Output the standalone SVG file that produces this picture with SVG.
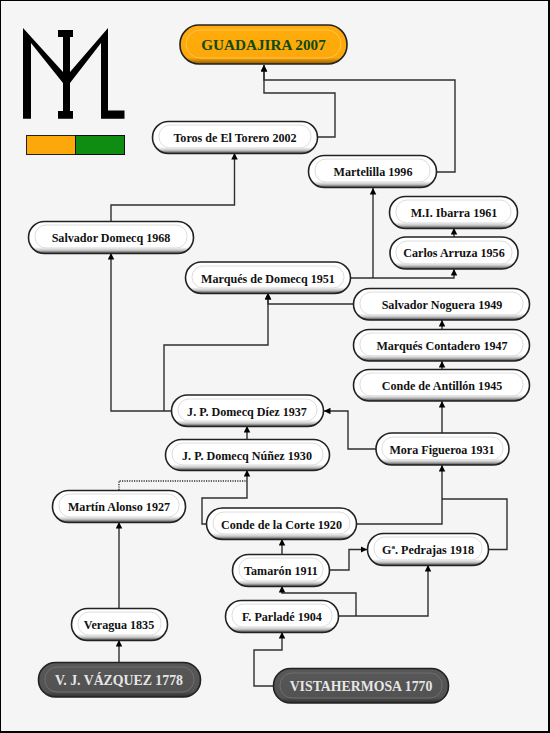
<svg xmlns="http://www.w3.org/2000/svg" width="550" height="733" viewBox="0 0 550 733">
<style>
.c{fill:none;stroke:#2f2f2f;stroke-width:1.4}
.a{marker-end:url(#ah)}
.d{stroke-dasharray:1.2 1.2}
.b{stroke:#222;stroke-width:1.6}
.w{fill:url(#gw)}
.k{fill:url(#gk)}
.o{fill:url(#go)}
.i{fill:none;stroke:#dedede;stroke-width:1}
.ik{fill:none;stroke:#6e6e6e;stroke-width:1}
.io{fill:none;stroke:#ffc44a;stroke-width:1}
text{font-family:"Liberation Serif","Times New Roman",serif;font-weight:bold;text-anchor:middle;font-size:12.1px;fill:#111}
.tk{fill:#e6e6e6;font-size:13.8px}
.to{fill:#0c4a10;font-size:15.2px}
</style>
<defs>
<marker id="ah" markerUnits="userSpaceOnUse" markerWidth="8" markerHeight="8" refX="6.500" refY="3.250" orient="auto"><path d="M0 0L6.500 3.250L0 6.500Z" fill="#000"/></marker>
<linearGradient id="gw" x1="0" y1="0" x2="0" y2="1"><stop offset="0" stop-color="#fff"/><stop offset=".8" stop-color="#fff"/><stop offset=".9" stop-color="#c4c4c4"/><stop offset="1" stop-color="#444"/></linearGradient>
<linearGradient id="gk" x1="0" y1="0" x2="0" y2="1"><stop offset="0" stop-color="#585858"/><stop offset=".85" stop-color="#525252"/><stop offset="1" stop-color="#2c2c2c"/></linearGradient>
<linearGradient id="go" x1="0" y1="0" x2="0" y2="1"><stop offset="0" stop-color="#ffac0c"/><stop offset=".84" stop-color="#fda80a"/><stop offset="1" stop-color="#8f5a00"/></linearGradient>
</defs>
<rect x="0" y="0" width="549" height="732" fill="#f5f5f5" stroke="#000" stroke-width="2"/>
<g id="logo">
<path fill="#000" d="M23 28L63 72V37H58V30H73V37H70V72L108 28V110.500H124.500V118.700H101V43L70 83V111H73V118.700H58V111H63V83L31 43V118.700H23Z"/>
<rect x="26.500" y="135.500" width="49" height="19" fill="#fca80a" stroke="#222"/>
<rect x="75.500" y="135.500" width="49" height="19" fill="#0f8c12" stroke="#111"/>
</g>
<g id="connectors">
<path class="c a" d="M437 172H455V80H264V65"/>
<path class="c a" d="M317 137H335V93H264V65"/>
<path class="c a" d="M111 221V205H234.500V153"/>
<path class="c a" d="M373 278V188"/>
<path class="c a" d="M350 278H454V269"/>
<path class="c a" d="M454 237V228"/>
<path class="c a" d="M353 304H268V293"/>
<path class="c a" d="M164 411V345H268V293"/>
<path class="c a" d="M171 411H111V253"/>
<path class="c a" d="M442 329V320"/>
<path class="c a" d="M442 369V361"/>
<path class="c a" d="M442 433V401"/>
<path class="c a" d="M356 524H442V465"/>
<path class="c" d="M442 499H507V549.500H488"/>
<path class="c a" d="M376 449H348V411H324"/>
<path class="c a" d="M247 439V426"/>
<path class="c a" d="M206 524H202V498H247V470"/>
<path class="c d" d="M119 490V481H247"/>
<path class="c a" d="M119 608V522"/>
<path class="c a" d="M119 662V640"/>
<path class="c a" d="M282 554V539"/>
<path class="c a" d="M330 570H349V549.500H367"/>
<path class="c a" d="M338 616H428V565"/>
<path class="c a" d="M356 616V593H282V586"/>
<path class="c a" d="M273 686H254V650H282V632"/>
</g>
<g id="n-guadajira"><rect class="b o" x="180" y="25" width="167" height="39" rx="19"/><rect class="io" x="186" y="30" width="155" height="28" rx="14"/><text class="to" x="263.500" y="50">GUADAJIRA 2007</text></g>
<g id="n-toros"><rect class="b w" x="152.500" y="121.500" width="165" height="32" rx="16"/><rect class="i" x="159" y="125" width="152" height="23" rx="11"/><text x="235" y="141.500">Toros de El Torero 2002</text></g>
<g id="n-martelilla"><rect class="b w" x="308.500" y="155.500" width="128" height="32" rx="16"/><rect class="i" x="315" y="159" width="115" height="23" rx="11"/><text x="373" y="176">Martelilla 1996</text></g>
<g id="n-ibarra"><rect class="b w" x="389.500" y="196.500" width="128" height="32" rx="16"/><rect class="i" x="396" y="200" width="115" height="23" rx="11"/><text x="454" y="216.500">M.I. Ibarra 1961</text></g>
<g id="n-arruza"><rect class="b w" x="390" y="237" width="128" height="32" rx="16"/><rect class="i" x="396" y="241" width="116" height="23" rx="11"/><text x="454" y="257">Carlos Arruza 1956</text></g>
<g id="n-sdomecq"><rect class="b w" x="28.500" y="221.500" width="165" height="32" rx="16"/><rect class="i" x="35" y="225" width="152" height="23" rx="11"/><text x="111" y="241.500">Salvador Domecq 1968</text></g>
<g id="n-mdomecq"><rect class="b w" x="185.500" y="262" width="165" height="31.500" rx="16"/><rect class="i" x="192" y="266" width="152" height="22" rx="11"/><text x="268" y="282.500">Marqués de Domecq 1951</text></g>
<g id="n-noguera"><rect class="b w" x="353.500" y="288.500" width="176" height="31.500" rx="16"/><rect class="i" x="360" y="292" width="163" height="23" rx="11"/><text x="442" y="309">Salvador Noguera 1949</text></g>
<g id="n-contadero"><rect class="b w" x="353.500" y="329.500" width="176" height="31.500" rx="16"/><rect class="i" x="360" y="333" width="163" height="23" rx="11"/><text x="442" y="349.500">Marqués Contadero 1947</text></g>
<g id="n-antillon"><rect class="b w" x="353.500" y="369.500" width="176" height="31.500" rx="16"/><rect class="i" x="360" y="373" width="163" height="23" rx="11"/><text x="442" y="390">Conde de Antillón 1945</text></g>
<g id="n-diez"><rect class="b w" x="171.500" y="395" width="152" height="31.500" rx="16"/><rect class="i" x="178" y="399" width="139" height="22" rx="11"/><text x="247" y="415.500">J. P. Domecq Díez 1937</text></g>
<g id="n-nunez"><rect class="b w" x="165.500" y="439.500" width="164" height="31" rx="16"/><rect class="i" x="172" y="443" width="151" height="22" rx="11"/><text x="247" y="460">J. P. Domecq Núñez 1930</text></g>
<g id="n-mora"><rect class="b w" x="376" y="433" width="133" height="32" rx="16"/><rect class="i" x="382" y="437" width="121" height="23" rx="11"/><text x="442" y="453.500">Mora Figueroa 1931</text></g>
<g id="n-alonso"><rect class="b w" x="52.500" y="490.500" width="133" height="32" rx="16"/><rect class="i" x="59" y="494" width="120" height="23" rx="11"/><text x="119" y="511">Martín Alonso 1927</text></g>
<g id="n-corte"><rect class="b w" x="206.500" y="508" width="150" height="31.500" rx="16"/><rect class="i" x="213" y="512" width="137" height="22" rx="11"/><text x="281.500" y="528.500">Conde de la Corte 1920</text></g>
<g id="n-pedrajas"><rect class="b w" x="367.500" y="533.500" width="121" height="32" rx="16"/><rect class="i" x="374" y="537" width="108" height="23" rx="11"/><text x="428" y="554">Gª. Pedrajas 1918</text></g>
<g id="n-tamaron"><rect class="b w" x="232.500" y="554.500" width="97" height="32" rx="16"/><rect class="i" x="239" y="558" width="84" height="23" rx="11"/><text x="281" y="574.500">Tamarón 1911</text></g>
<g id="n-parlade"><rect class="b w" x="225.500" y="600.500" width="113" height="32" rx="16"/><rect class="i" x="232" y="604" width="100" height="23" rx="11"/><text x="282" y="621">F. Parladé 1904</text></g>
<g id="n-veragua"><rect class="b w" x="71.500" y="608.500" width="96" height="32" rx="16"/><rect class="i" x="78" y="612" width="83" height="23" rx="11"/><text x="119" y="629">Veragua 1835</text></g>
<g id="n-vazquez"><rect class="b k" x="38.500" y="662.500" width="162" height="34.500" rx="17"/><rect class="ik" x="45" y="667" width="149" height="25" rx="12"/><text class="tk" x="119" y="684.500">V. J. VÁZQUEZ 1778</text></g>
<g id="n-vistahermosa"><rect class="b k" x="273.500" y="668.500" width="175" height="34.500" rx="17"/><rect class="ik" x="280" y="673" width="162" height="25" rx="12"/><text class="tk" x="361" y="690.500">VISTAHERMOSA 1770</text></g>
</svg>
